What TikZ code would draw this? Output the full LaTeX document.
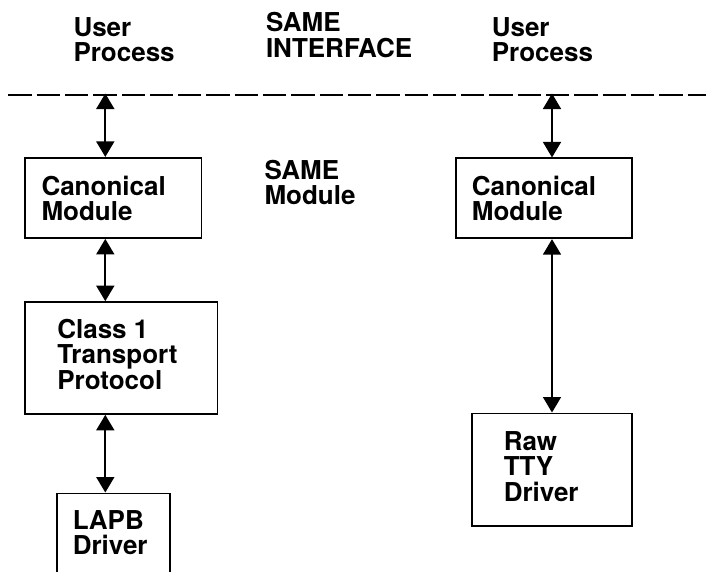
\documentclass[tikz,border=0pt]{standalone}
\usepackage{fontspec}
\setmainfont{TeX Gyre Heros}
\usetikzlibrary{arrows.meta}
\newcommand\mlines[1]{\vtop{\halign{##\hfil\cr#1\crcr}}}
\tikzset{
  lbl/.style={anchor=base west, inner sep=0pt, outer sep=0pt,
    font=\fontsize{26}{25.5}\selectfont\bfseries},
  boxnode/.style={draw, line width=1.7pt, inner sep=0pt},
  biarrow/.style={line width=1.7pt, {Triangle[width=18pt,length=15.5pt]}-{Triangle[width=18pt,length=15.5pt]}},
}
\begin{document}
\begin{tikzpicture}[x=1pt,y=-1pt]
\useasboundingbox (0,0) rectangle (706,571);
\clip (0,0) rectangle (706,571);
% top labels
\node[lbl] (up1) at (73.5,36) {\mlines{User\cr Process}};
\node[lbl] (si) at (266,31.5) {\mlines{SAME\cr INTERFACE}};
\node[lbl] (up2) at (491.8,36) {\mlines{User\cr Process}};
% dashed interface line
\coordinate (dl) at (8.3,94.7);
\coordinate (dr) at (706,94.7);
\draw[line width=1.7pt, dash pattern=on 23.3pt off 5pt] (dl) -- (dr);
% boxes
\node[boxnode, minimum width=176.3pt, minimum height=80.3pt] (c1) at (113.2,197.9) {};
\node[boxnode, minimum width=192.3pt, minimum height=112pt] (t1) at (121.2,358) {};
\node[boxnode, minimum width=112.4pt, minimum height=91.7pt] (l1) at (113.5,539.2) {};
\node[boxnode, minimum width=176.3pt, minimum height=80pt] (c2) at (543.9,198.3) {};
\node[boxnode, minimum width=160pt, minimum height=112.7pt] (r2) at (552,469.7) {};
% box texts
\node[lbl] (c1t) at (41.5,195) {\mlines{Canonical\cr Module}};
\node[lbl] (t1t) at (57.3,338) {\mlines{Class 1\cr Transport\cr Protocol}};
\node[lbl] (l1t) at (72.8,529) {\mlines{LAPB\cr Driver}};
\node[lbl] (c2t) at (471.9,195) {\mlines{Canonical\cr Module}};
\node[lbl] (r2t) at (503.8,450) {\mlines{Raw\cr TTY\cr Driver}};
\node[lbl] (sm) at (264.5,179.3) {\mlines{SAME\cr Module}};
% connectors
\coordinate (a1) at (105.3,93.5);
\coordinate (a2) at (552,93.5);
\draw[biarrow] (a1) -- (a1 |- c1.north);
\draw[biarrow] (a1 |- c1.south) -- (a1 |- t1.north);
\draw[biarrow] (a1 |- t1.south) -- (a1 |- l1.north);
\draw[biarrow] (a2) -- (a2 |- c2.north);
\draw[biarrow] (a2 |- c2.south) -- (a2 |- r2.north);
\end{tikzpicture}
\end{document}
